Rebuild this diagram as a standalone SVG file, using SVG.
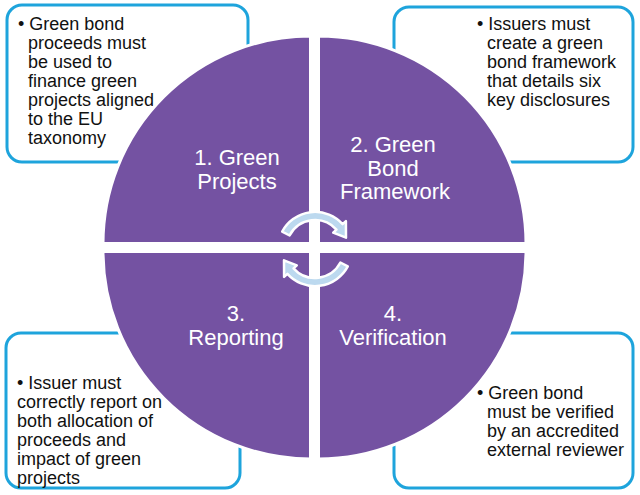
<svg xmlns="http://www.w3.org/2000/svg" width="640" height="495" viewBox="0 0 640 495">
<style>
.box{fill:#fff;stroke:#1ea4dc;stroke-width:3}
.q{fill:#7452a2;stroke:#fff;stroke-width:3}
.t{font-family:"Liberation Sans",Arial,sans-serif;font-size:18px;fill:#111}
.l{font-family:"Liberation Sans",Arial,sans-serif;font-size:22px;fill:#fff;text-anchor:middle}
.arr{fill:#bcd9ef;stroke:#fff;stroke-width:2.5;stroke-linejoin:round}
</style>
<defs>
<path id="cyc" class="arr" d="M282.2,231.6 A37.2,37.2 0 0 1 342.6,224.1 L345.9,221.1 L346.0,237.7 L333.2,232.7 L336.5,229.7 A28.8,28.8 0 0 0 289.6,235.5 Z"/>
</defs>
<rect id="bg" x="0" y="0" width="640" height="495" fill="#fff"/>
<g id="box-tl">
<rect class="box" x="7" y="5" width="241" height="157" rx="15"/>
<text class="t"><tspan x="18" y="30">• Green bond</tspan><tspan x="28" y="49">proceeds must</tspan><tspan x="28" y="68">be used to</tspan><tspan x="28" y="87">finance green</tspan><tspan x="28" y="106">projects aligned</tspan><tspan x="28" y="125">to the EU</tspan><tspan x="28" y="144">taxonomy</tspan></text>
</g>
<g id="box-tr">
<rect class="box" x="394" y="7" width="239" height="155" rx="15"/>
<text class="t"><tspan x="477" y="30">• Issuers must</tspan><tspan x="487" y="49">create a green</tspan><tspan x="487" y="68">bond framework</tspan><tspan x="487" y="87">that details six</tspan><tspan x="487" y="106">key disclosures</tspan></text>
</g>
<g id="box-bl">
<rect class="box" x="6" y="333" width="234" height="155" rx="15"/>
<text class="t"><tspan x="17" y="389">• Issuer must</tspan><tspan x="17" y="408">correctly report on</tspan><tspan x="17" y="427">both allocation of</tspan><tspan x="17" y="446">proceeds and</tspan><tspan x="17" y="465">impact of green</tspan><tspan x="17" y="484">projects</tspan></text>
</g>
<g id="box-br">
<rect class="box" x="394" y="333" width="239" height="155" rx="15"/>
<text class="t"><tspan x="477" y="399">• Green bond</tspan><tspan x="487" y="418">must be verified</tspan><tspan x="487" y="437">by an accredited</tspan><tspan x="487" y="456">external reviewer</tspan></text>
</g>
<g id="q1">
<path class="q" d="M310.5,243.5 L103,243.5 A207.5,207.5 0 0 1 310.5,36 Z"/>
<text class="l"><tspan x="237" y="165">1. Green</tspan><tspan x="237" y="189">Projects</tspan></text>
</g>
<g id="q2">
<path class="q" d="M318.5,243.5 L318.5,36 A207.5,207.5 0 0 1 526,243.5 Z"/>
<text class="l"><tspan x="393" y="152">2. Green</tspan><tspan x="393" y="176">Bond</tspan><tspan x="395" y="199">Framework</tspan></text>
</g>
<g id="q3">
<path class="q" d="M310.5,251.5 L310.5,459 A207.5,207.5 0 0 1 103,251.5 Z"/>
<text class="l"><tspan x="236" y="321">3.</tspan><tspan x="236" y="345">Reporting</tspan></text>
</g>
<g id="q4">
<path class="q" d="M318.5,251.5 L526,251.5 A207.5,207.5 0 0 1 318.5,459 Z"/>
<text class="l"><tspan x="393" y="321">4.</tspan><tspan x="393" y="345">Verification</tspan></text>
</g>
<g id="connectors">
<use href="#cyc"/>
<use href="#cyc" transform="rotate(180 315 249)"/>
</g>
</svg>
